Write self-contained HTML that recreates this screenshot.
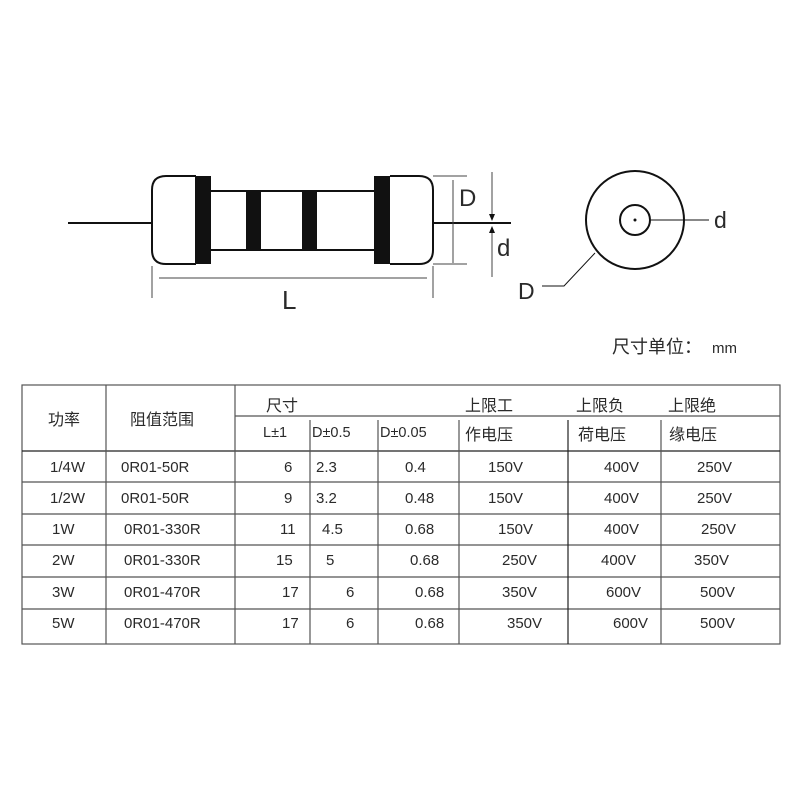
<!DOCTYPE html>
<html><head><meta charset="utf-8"><style>
body{margin:0;background:#fff}
svg{display:block}
text{font-family:"Liberation Sans","Noto Sans CJK SC",sans-serif;fill:#2a2a2a}
</style></head><body>
<svg width="800" height="800" viewBox="0 0 800 800" xmlns="http://www.w3.org/2000/svg">
<rect width="800" height="800" fill="#fff"/>
<!-- resistor -->
<g stroke="#111" fill="none" stroke-width="2">
<line x1="68" y1="223" x2="152" y2="223"/>
<line x1="433" y1="223" x2="511" y2="223"/>
<path d="M196 176 H166 Q152 176 152 190 V250 Q152 264 166 264 H196"/>
<path d="M390 176 H419 Q433 176 433 190 V250 Q433 264 419 264 H390"/>
<line x1="211" y1="191" x2="374" y2="191"/>
<line x1="211" y1="250" x2="374" y2="250"/>
</g>
<g fill="#111">
<rect x="195" y="176" width="16" height="88"/>
<rect x="374" y="176" width="16" height="88"/>
<rect x="246" y="191" width="15" height="59"/>
<rect x="302" y="191" width="15" height="59"/>
</g>
<g stroke="#444" stroke-width="1" fill="none">
<line x1="433" y1="176" x2="467" y2="176"/>
<line x1="433" y1="264" x2="467" y2="264"/>
<line x1="453" y1="180" x2="453" y2="263"/>
<line x1="492" y1="172" x2="492" y2="218"/>
<line x1="492" y1="230" x2="492" y2="277"/>
<line x1="152" y1="266" x2="152" y2="298"/>
<line x1="433" y1="266" x2="433" y2="298"/>
<line x1="159" y1="278" x2="427" y2="278"/>
</g>
<path d="M489 214 L492 221 L495 214 Z" fill="#111"/>
<path d="M489 233 L492 226 L495 233 Z" fill="#111"/>
<text x="459" y="206" font-size="24">D</text>
<text x="497" y="256" font-size="24">d</text>
<text x="282" y="309" font-size="26">L</text>
<!-- end view -->
<g stroke="#111" fill="none">
<circle cx="635" cy="220" r="49" stroke-width="2"/>
<circle cx="635" cy="220" r="15" stroke-width="2"/>
<line x1="651" y1="220" x2="709" y2="220" stroke-width="1"/>
<polyline points="595,253 564,286 542,286" stroke-width="1"/>
</g>
<circle cx="635" cy="220" r="1.5" fill="#111"/>
<text x="714" y="228" font-size="23">d</text>
<text x="518" y="299" font-size="23">D</text>
<text x="612" y="353" font-size="18">尺寸单位：</text>
<text x="712" y="353" font-size="15">mm</text>
<!-- table -->
<g stroke="#555" stroke-width="1.2" fill="none">
<rect x="22" y="385" width="758" height="259"/>
<line x1="235" y1="416" x2="780" y2="416"/>
<line x1="22" y1="451" x2="780" y2="451" stroke="#222"/>
<line x1="22" y1="482" x2="780" y2="482"/>
<line x1="22" y1="514" x2="780" y2="514"/>
<line x1="22" y1="545" x2="780" y2="545"/>
<line x1="22" y1="577" x2="780" y2="577"/>
<line x1="22" y1="609" x2="780" y2="609"/>
<line x1="106" y1="385" x2="106" y2="644"/>
<line x1="235" y1="385" x2="235" y2="644"/>
<line x1="310" y1="420" x2="310" y2="644"/>
<line x1="378" y1="420" x2="378" y2="644"/>
<line x1="459" y1="420" x2="459" y2="644"/>
<line x1="568" y1="420" x2="568" y2="644" stroke="#222"/>
<line x1="661" y1="420" x2="661" y2="644"/>
</g>
<g font-size="16">
<text x="48" y="425">功率</text>
<text x="130" y="425">阻值范围</text>
<text x="266" y="411">尺寸</text>
<text x="465" y="411">上限工</text>
<text x="576" y="411">上限负</text>
<text x="668" y="411">上限绝</text>
<text x="465" y="440">作电压</text>
<text x="578" y="440">荷电压</text>
<text x="669" y="440">缘电压</text>
</g>
<g font-size="14.5">
<text x="263" y="437">L±1</text>
<text x="312" y="437">D±0.5</text>
<text x="380" y="437">D±0.05</text>
</g>
<g font-size="15">
<text x="50" y="472">1/4W</text><text x="121" y="472">0R01-50R</text><text x="284" y="472">6</text><text x="316" y="472">2.3</text><text x="405" y="472">0.4</text><text x="488" y="472">150V</text><text x="604" y="472">400V</text><text x="697" y="472">250V</text>
<text x="50" y="503">1/2W</text><text x="121" y="503">0R01-50R</text><text x="284" y="503">9</text><text x="316" y="503">3.2</text><text x="405" y="503">0.48</text><text x="488" y="503">150V</text><text x="604" y="503">400V</text><text x="697" y="503">250V</text>
<text x="52" y="534">1W</text><text x="124" y="534">0R01-330R</text><text x="280" y="534">11</text><text x="322" y="534">4.5</text><text x="405" y="534">0.68</text><text x="498" y="534">150V</text><text x="604" y="534">400V</text><text x="701" y="534">250V</text>
<text x="52" y="565">2W</text><text x="124" y="565">0R01-330R</text><text x="276" y="565">15</text><text x="326" y="565">5</text><text x="410" y="565">0.68</text><text x="502" y="565">250V</text><text x="601" y="565">400V</text><text x="694" y="565">350V</text>
<text x="52" y="597">3W</text><text x="124" y="597">0R01-470R</text><text x="282" y="597">17</text><text x="346" y="597">6</text><text x="415" y="597">0.68</text><text x="502" y="597">350V</text><text x="606" y="597">600V</text><text x="700" y="597">500V</text>
<text x="52" y="628">5W</text><text x="124" y="628">0R01-470R</text><text x="282" y="628">17</text><text x="346" y="628">6</text><text x="415" y="628">0.68</text><text x="507" y="628">350V</text><text x="613" y="628">600V</text><text x="700" y="628">500V</text>
</g>
</svg>
</body></html>
